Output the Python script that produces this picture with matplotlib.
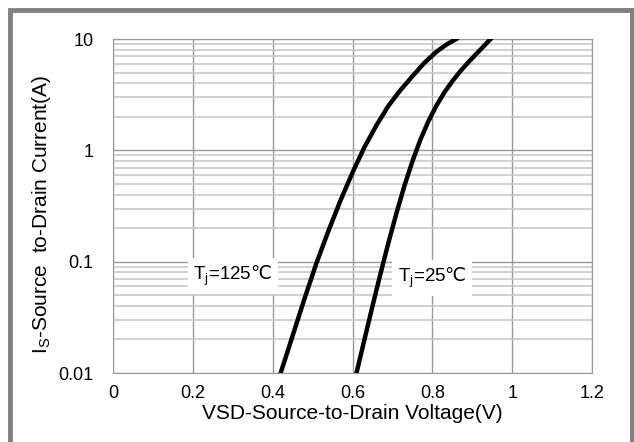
import numpy as np
import matplotlib.pyplot as plt
from matplotlib.patches import Rectangle
from matplotlib.ticker import FixedLocator, NullFormatter

plt.rcParams['font.family'] = ['Liberation Sans', 'DejaVu Sans']
plt.rcParams['mathtext.fontset'] = 'custom'
plt.rcParams['mathtext.rm'] = 'Liberation Sans'
plt.rcParams['mathtext.sf'] = 'DejaVu Sans'

# body diode forward curves
vsd_125 = [0.42, 0.45, 0.48, 0.51, 0.54, 0.57, 0.60, 0.63, 0.66, 0.69, 0.72, 0.75,
           0.78, 0.81, 0.835, 0.86]
is_125 = [0.01, 0.0216, 0.0468, 0.0977, 0.19, 0.355, 0.631, 1.07, 1.68, 2.51, 3.47, 4.62,
          6.1, 7.67, 8.91, 10.0]

vsd_25 = [0.61, 0.63, 0.65, 0.67, 0.69, 0.71, 0.73, 0.75, 0.77, 0.79, 0.81, 0.83,
          0.85, 0.87, 0.89, 0.91, 0.93, 0.946]
is_25 = [0.01, 0.02, 0.0398, 0.0776, 0.148, 0.272, 0.479, 0.794, 1.245, 1.82, 2.51, 3.31,
         4.17, 5.13, 6.17, 7.33, 8.71, 10.0]

x_ticks = [0, 0.2, 0.4, 0.6, 0.8, 1.0, 1.2]
x_labels = ['0', '0.2', '0.4', '0.6', '0.8', '1', '1.2']
y_ticks = [0.01, 0.1, 1, 10]
y_labels = ['0.01', '0.1', '1', '10']

fig = plt.figure(figsize=(6.34, 4.42), dpi=100)
ax = fig.add_axes([113 / 634, 1 - 373 / 442, 479 / 634, 334 / 442])

ax.set_xlim(0, 1.2)
ax.set_ylim(0.01, 10)
ax.set_yscale('log')

ax.set_xticks(x_ticks)
ax.set_xticklabels(x_labels)
ax.set_yticks(y_ticks)
ax.set_yticklabels(y_labels)
minors = [m * 10.0 ** e for e in (-2, -1, 0) for m in range(2, 10)]
ax.yaxis.set_minor_locator(FixedLocator(minors))
ax.yaxis.set_minor_formatter(NullFormatter())
ax.tick_params(which='both', length=0, labelsize=13)
ax.tick_params(axis='y', pad=14)
ax.tick_params(axis='x', pad=9)

ax.grid(True, which='major', color='#999999', lw=1.0)
ax.grid(True, which='minor', axis='y', color='#c4c4c4', lw=1.1)
for s in ax.spines.values():
    s.set_color('#999999')
ax.set_axisbelow(True)

ax.plot(vsd_125, is_125, color='black', lw=3.2, solid_joinstyle='round', zorder=3)
ax.plot(vsd_25, is_25, color='black', lw=3.2, solid_joinstyle='round', zorder=3)

box = dict(facecolor='white', edgecolor='none', pad=4)
ax.text(0.30, 0.074, r'T$_\mathrm{j}$=125$\mathsf{℃}$', fontsize=13.5, ha='center',
        va='center', bbox=box, zorder=2)
ax.text(0.80, 0.071, r'T$_\mathrm{j}$=25$\mathsf{℃}$', fontsize=13.5, ha='center',
        va='center', bbox=box, zorder=2)

ax.set_xlabel('VSD-Source-to-Drain Voltage(V)', fontsize=15, labelpad=1)
ax.set_ylabel(r'I$_\mathrm{S}$-Source  to-Drain Current(A)', fontsize=15)
ax.yaxis.set_label_coords(-0.125, 0.475)

# grey frame around the figure
fig.patches.append(Rectangle((10 / 634, -0.05), 622 / 634, 1 - 10 / 442 + 0.05,
                             transform=fig.transFigure, fill=False,
                             edgecolor='#808080', lw=3.5))

fig.savefig('out.png', dpi=100)
